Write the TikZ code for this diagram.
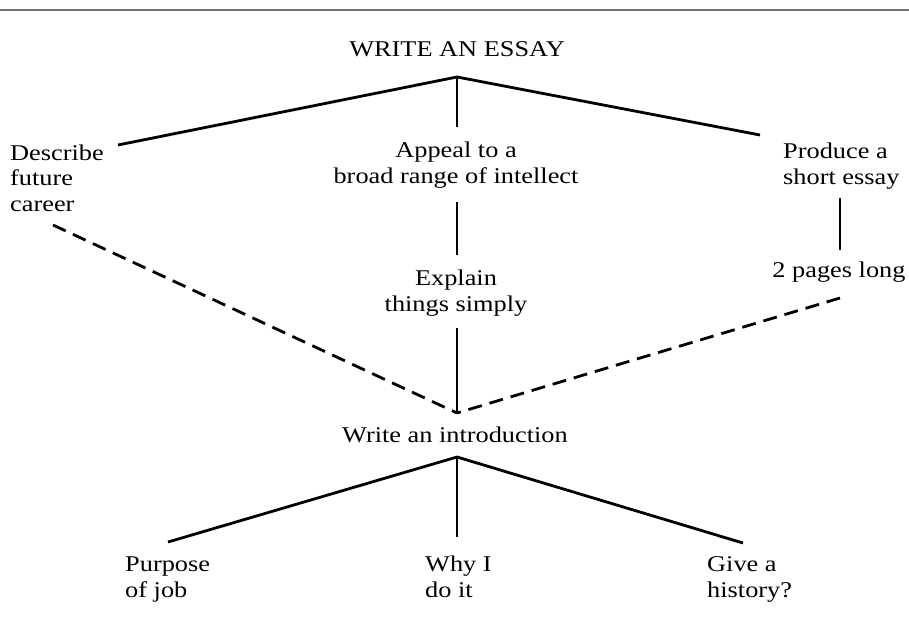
\documentclass[tikz,border=0pt]{standalone}
\usepackage{fontspec}
\setmainfont[FakeStretch=1.17]{Liberation Serif}
\begin{document}
\begin{tikzpicture}[x=1pt,y=-1pt,
  lbl/.style={inner sep=0pt,font=\fontsize{22.5}{25.5}\selectfont},
  solid line/.style={line width=2.8pt},
  thin line/.style={line width=1.8pt},
  dash line/.style={line width=2.8pt,dash pattern=on 14pt off 8pt}]
\useasboundingbox (0,0) rectangle (909,629);
\draw[line width=1.8pt,black!55] (0,10) -- (909,10);
\node[lbl,anchor=base] (top) at (457,56) {WRITE AN ESSAY};
\node[lbl,anchor=base west,align=left] (desc) at (10,211) {Describe\\future\\career};
\node[lbl,anchor=base,align=center] (appeal) at (456,183) {Appeal to a\\broad range of intellect};
\node[lbl,anchor=base west,align=left] (prod) at (783,184) {Produce a\\short essay};
\node[lbl,anchor=base,align=center] (expl) at (456,311) {Explain\\things simply};
\node[lbl,anchor=base] (pages) at (839,277) {2 pages long};
\node[lbl,anchor=base] (intro) at (455,442) {Write an introduction};
\node[lbl,anchor=base west,align=left] (purp) at (125,597) {Purpose\\of job};
\node[lbl,anchor=base west,align=left] (why) at (425,597) {Why I\\do it};
\node[lbl,anchor=base west,align=left] (hist) at (707,597) {Give a\\history?};
% coordinates
\coordinate (a1) at (457,77);
\coordinate (a1l) at (118,145);
\coordinate (a1r) at (760,135);
\coordinate (a1d) at (457,127);
\coordinate (v1t) at (457,202);
\coordinate (v1b) at (457,255);
\coordinate (v2t) at (840,198);
\coordinate (v2b) at (840,250);
\coordinate (v3t) at (457,328);
\coordinate (a2) at (457,413);
\coordinate (dl) at (53,225);
\coordinate (dr) at (840,298);
\coordinate (a3) at (457,457);
\coordinate (a3l) at (168,542);
\coordinate (a3r) at (743,543);
\coordinate (a3d) at (457,537);
% connectors
\draw[solid line] (a1l) -- (a1) -- (a1r);
\draw[thin line] (a1) -- (a1d);
\draw[thin line] (v1t) -- (v1b);
\draw[thin line] (v2t) -- (v2b);
\draw[thin line] (v3t) -- (a2);
\draw[dash line] (dl) -- (a2);
\draw[dash line] (dr) -- (a2);
\draw[solid line] (a3l) -- (a3) -- (a3r);
\draw[thin line] (a3) -- (a3d);
\end{tikzpicture}
\end{document}
